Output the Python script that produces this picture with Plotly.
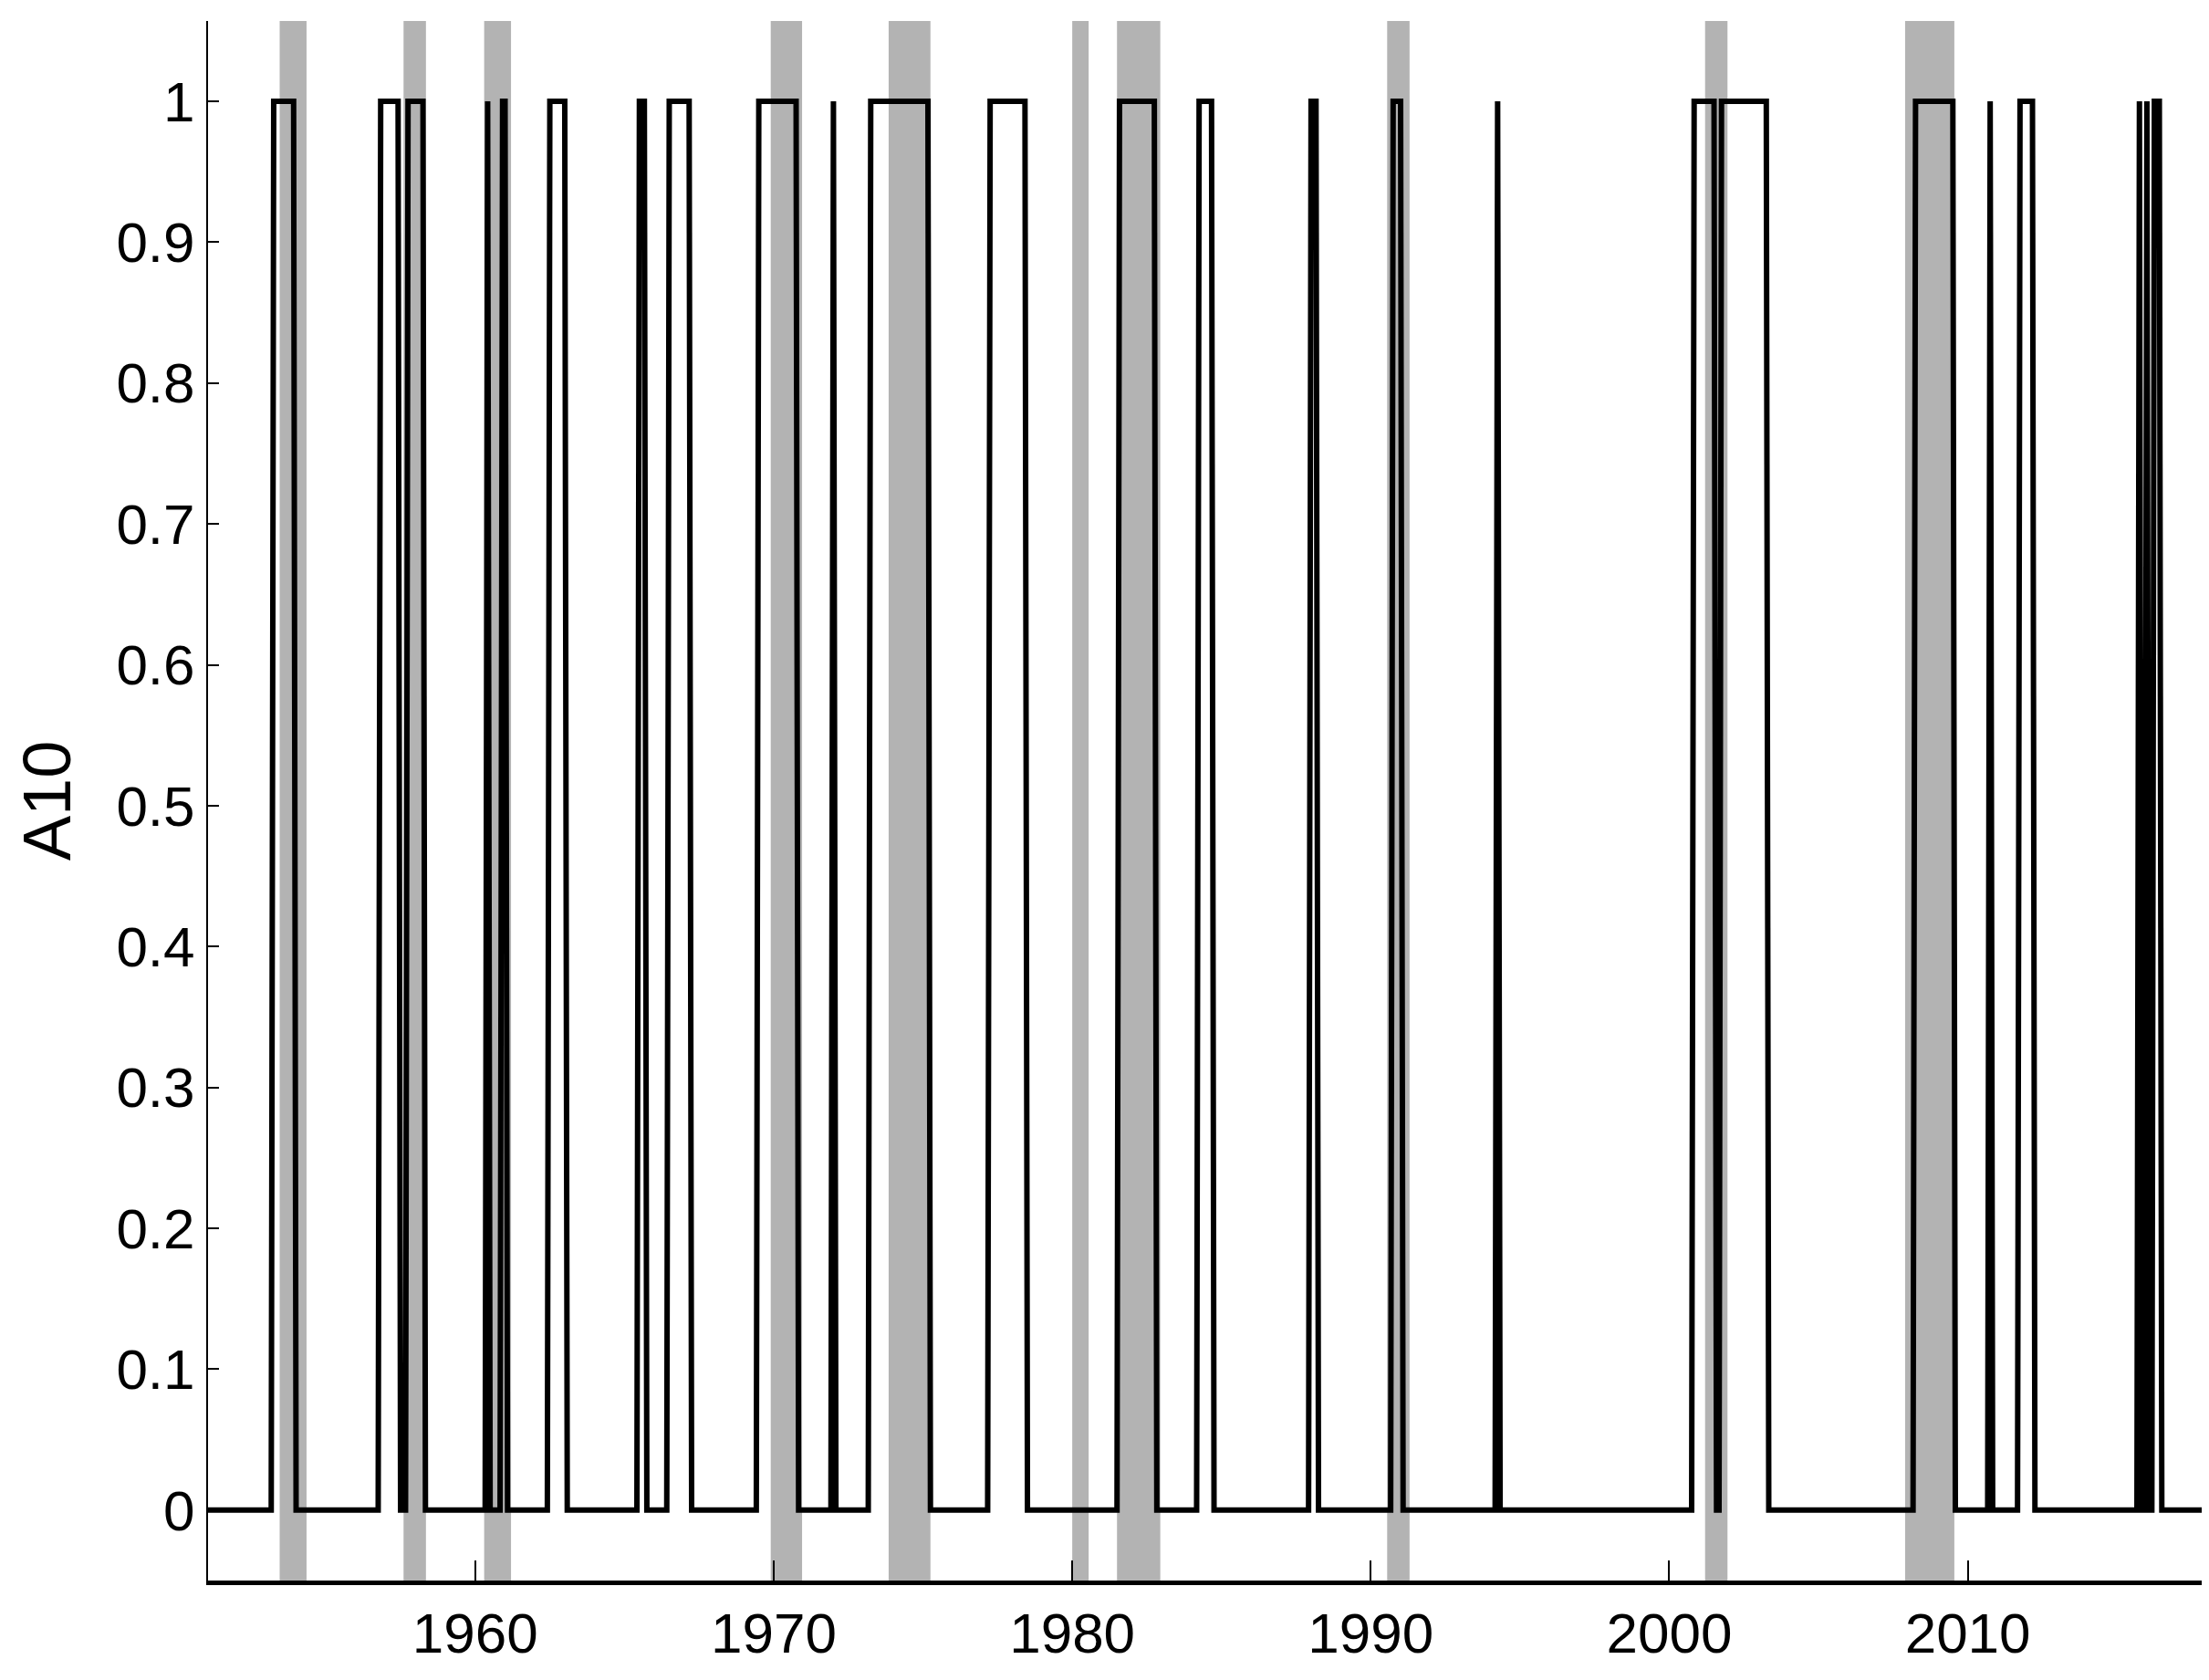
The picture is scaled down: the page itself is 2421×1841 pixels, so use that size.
import plotly.graph_objects as go

rec_start = [1953.45, 1957.6, 1960.3, 1969.9, 1973.85, 1980.0, 1981.5, 1990.55, 2001.2, 2007.9]
rec_end   = [1954.35, 1958.35, 1961.2, 1970.95, 1975.25, 1980.55, 1982.95, 1991.3, 2001.95, 2009.55]

on_start = [1953.25, 1956.83, 1957.75, 1960.4, 1960.85, 1962.42, 1965.5, 1966.42, 1969.5, 1971.92,
            1973.25, 1977.17, 1981.58, 1984.17, 1987.92, 1988.08, 1990.75, 1994.25, 2000.83, 2001.67,
            2008.17, 2010.67, 2011.75, 2015.75, 2015.92, 2016.17]
on_end   = [1953.92, 1957.42, 1958.33, 1960.42, 1961.0, 1963.0, 1965.67, 1967.17, 1970.83, 1972.0,
            1975.17, 1978.42, 1982.75, 1984.67, 1988.0, 1988.17, 1991.08, 1994.33, 2001.5, 2003.33,
            2009.5, 2010.75, 2012.17, 2015.83, 2016.08, 2016.42]

months = [1951 + i / 12 for i in range(0, 67 * 12 + 1)]
vals = [1 if any(s - 1e-6 <= m <= e + 1e-6 for s, e in zip(on_start, on_end)) else 0 for m in months]

fig = go.Figure()
for s, e in zip(rec_start, rec_end):
    fig.add_vrect(x0=s, x1=e, fillcolor="#b3b3b3", line_width=0, layer="below")
fig.add_trace(go.Scatter(x=months, y=vals, mode="lines", line=dict(color="black", width=6), showlegend=False))

fig.update_layout(
    width=2421, height=1841, plot_bgcolor="white", paper_bgcolor="white",
    margin=dict(l=220, r=9, t=15, b=117),
    font=dict(family="Liberation Sans", size=62, color="black"),
    xaxis=dict(range=[1951.05, 2018.05], tickvals=[1960, 1970, 1980, 1990, 2000, 2010],
               ticks="inside", ticklen=22, tickwidth=2, tickcolor="black", showgrid=False,
               zeroline=False, showline=True, linecolor="black", linewidth=5),
    yaxis=dict(range=[-0.05, 1.057], tickvals=[i / 10 for i in range(11)],
               ticktext=["0"] + [f"0.{i}" for i in range(1, 10)] + ["1"],
               ticks="inside", ticklen=12, tickwidth=2, tickcolor="black", showgrid=False,
               zeroline=False, showline=True, linecolor="black", linewidth=2,
               title=dict(text="A10", standoff=25)),
)
fig.write_html("out.html")
